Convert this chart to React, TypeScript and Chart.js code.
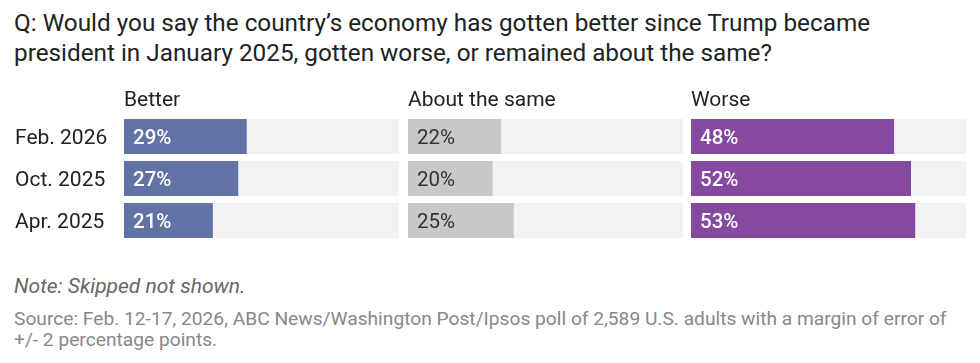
import React, { useEffect, useRef } from "react";
import { Chart, registerables } from "chart.js";

Chart.register(...registerables);

const categories = ["Feb. 2026", "Oct. 2025", "Apr. 2025"];
const panelTitles = ["Better", "About the same", "Worse"];
const betterValues = [29, 27, 21];
const sameValues = [22, 20, 25];
const worseValues = [48, 52, 53];
const panelColors = ["#6272a4", "#c8c8c8", "#8549a0"];
const labelColors = ["#ffffff", "#333333", "#ffffff"];
const labelWeights = [500, 400, 500];
const trackColor = "#f2f2f2";
const axisMax = 65;

const FONT = "Roboto, 'Noto Sans', sans-serif";

type PanelProps = {
  values: number[];
  title: string;
  color: string;
  labelColor: string;
  labelWeight: number;
  showY: boolean;
  left: number;
  width: number;
};

const overlayPlugin = {
  id: "overlay",
  afterDatasetsDraw(chart: any, _args: any, opts: any) {
    const ctx = chart.ctx;
    const area = chart.chartArea;
    ctx.save();
    ctx.textAlign = "left";
    ctx.textBaseline = "alphabetic";
    // header
    ctx.font = `400 21px ${FONT}`;
    ctx.fillStyle = "#222222";
    ctx.fillText(opts.title, area.left, 25.7);
    // category labels (from the y scale)
    if (opts.showY) {
      const y = chart.scales.y;
      ctx.font = `400 21px ${FONT}`;
      ctx.fillStyle = "#222222";
      (chart.data.labels as string[]).forEach((lab: string, i: number) => {
        ctx.fillText(lab, y.left, y.getPixelForTick(i) + 7.6);
      });
    }
    // bar labels
    const meta = chart.getDatasetMeta(0);
    const data = chart.data.datasets[0].data as number[];
    ctx.font = `${opts.labelWeight} 20.5px ${FONT}`;
    ctx.fillStyle = opts.labelColor;
    meta.data.forEach((bar: any, i: number) => {
      ctx.fillText(`${data[i]}%`, bar.base + 9, bar.y + 7);
    });
    ctx.restore();
  },
};

function Panel({ values, title, color, labelColor, labelWeight, showY, left, width }: PanelProps) {
  const ref = useRef<HTMLCanvasElement | null>(null);
  useEffect(() => {
    if (!ref.current) return;
    const yScale: any = {
      display: showY,
      grid: { display: false, drawTicks: false },
      border: { display: false },
      ticks: { display: false },
    };
    if (showY) {
      yScale.afterFit = (scale: any) => {
        scale.width = 109;
      };
    }
    const chart = new Chart(ref.current, {
      type: "bar",
      data: {
        labels: categories,
        datasets: [
          {
            data: values,
            backgroundColor: color,
            borderWidth: 0,
            barPercentage: 35 / 42,
            categoryPercentage: 1,
            grouped: false,
          } as any,
          {
            data: categories.map(() => axisMax),
            backgroundColor: trackColor,
            borderWidth: 0,
            barPercentage: 35 / 42,
            categoryPercentage: 1,
            grouped: false,
          } as any,
        ],
      },
      plugins: [overlayPlugin],
      options: {
        indexAxis: "y",
        animation: false,
        responsive: false,
        maintainAspectRatio: false,
        events: [],
        layout: { padding: { top: 35.5, bottom: 8.5, left: 0, right: 0 } },
        plugins: {
          legend: { display: false },
          tooltip: { enabled: false },
          overlay: { title, labelColor, labelWeight, showY },
        } as any,
        scales: {
          x: { display: false, min: 0, max: axisMax },
          y: yScale,
        },
      } as any,
    });
    return () => chart.destroy();
  }, []);
  return (
    <canvas
      ref={ref}
      width={width}
      height={170}
      style={{ position: "absolute", left, top: 80, width, height: 170 }}
    />
  );
}

export default function App() {
  const all = [betterValues, sameValues, worseValues];
  const lefts = [15, 408, 691];
  const widths = [384, 275, 275];
  return (
    <div
      style={{
        position: "absolute",
        left: 0,
        top: 0,
        width: 980,
        height: 363,
        background: "#ffffff",
        fontFamily: FONT,
        overflow: "hidden",
      }}
    >
      <div
        style={{
          position: "absolute",
          left: 14,
          top: 8,
          fontSize: 24.3,
          lineHeight: "30px",
          color: "#222222",
          whiteSpace: "nowrap",
        }}
      >
        Q: Would you say the country’s economy has gotten better since Trump became
        <br />
        president in January 2025, gotten worse, or remained about the same?
      </div>
      {all.map((vals, i) => (
        <Panel
          key={i}
          values={vals}
          title={panelTitles[i]}
          color={panelColors[i]}
          labelColor={labelColors[i]}
          labelWeight={labelWeights[i]}
          showY={i === 0}
          left={lefts[i]}
          width={widths[i]}
        />
      ))}
      <div
        style={{
          position: "absolute",
          left: 14,
          top: 273,
          fontSize: 21,
          lineHeight: "26px",
          fontStyle: "italic",
          color: "#666666",
          whiteSpace: "nowrap",
        }}
      >
        Note: Skipped not shown.
      </div>
      <div
        style={{
          position: "absolute",
          left: 14,
          top: 307.5,
          fontSize: 19.2,
          lineHeight: "21px",
          color: "#888888",
          whiteSpace: "nowrap",
        }}
      >
        Source: Feb. 12-17, 2026, ABC News/Washington Post/Ipsos poll of 2,589 U.S. adults with a margin of error of
        <br />
        +/- 2 percentage points.
      </div>
    </div>
  );
}
